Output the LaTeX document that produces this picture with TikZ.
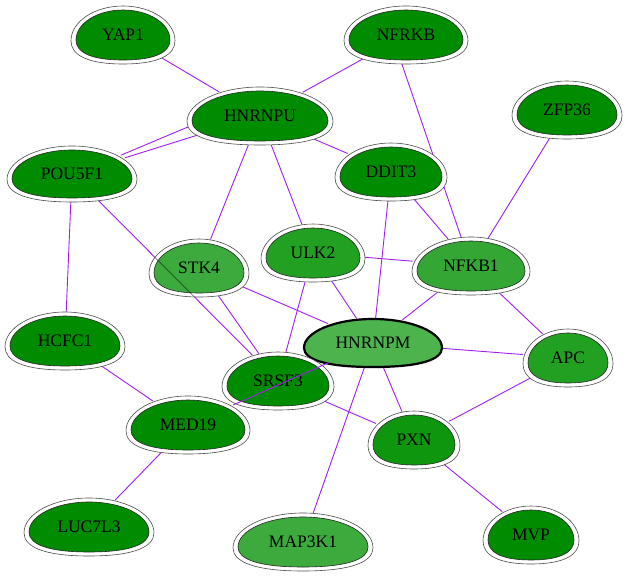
\documentclass[tikz,border=0pt]{standalone}
\usepackage{fontspec}
\setmainfont{Liberation Serif}
\usetikzlibrary{shapes.geometric,backgrounds}
\definecolor{gdark}{HTML}{008C00}
\definecolor{gpxn}{HTML}{0E960E}
\definecolor{gmid}{HTML}{22A022}
\definecolor{gnfk}{HTML}{33A633}
\definecolor{glight}{HTML}{3DAA3D}
\definecolor{ghub}{HTML}{4DB34D}
\definecolor{edgepurple}{HTML}{A020F0}
\newcommand{\eggpath}[2]{(0,{-(#2)}) .. controls ({0.55*(#1)},{-(#2)}) and ({#1},{-0.46*(#2)}) .. ({#1},{0.2*(#2)}) .. controls ({#1},{0.68*(#2)}) and ({0.7*(#1)},{#2}) .. (0,{#2}) .. controls ({-0.7*(#1)},{#2}) and ({-(#1)},{0.68*(#2)}) .. ({-(#1)},{0.2*(#2)}) .. controls ({-(#1)},{-0.46*(#2)}) and ({-0.55*(#1)},{-(#2)}) .. cycle}
\tikzset{
  pics/egg/.style n args={3}{code={
    \filldraw[draw=black!70, line width=0.6pt, fill=white] \eggpath{#1}{#2};
    \filldraw[draw=black!85, line width=0.6pt, fill=#3] \eggpath{#1-5}{#2-4};
  }},
  pics/hubegg/.style n args={3}{code={
    \filldraw[draw=black, line width=2.2pt, fill=#3] \eggpath{#1}{#2};
  }},
  genetext/.style={ellipse, inner sep=0pt, font=\fontsize{17.5}{20}\selectfont},
  link/.style={draw=edgepurple, line width=0.9pt},
  shadowlink/.style={draw=black, draw opacity=0.45, line width=0.9pt},
}
\begin{document}
\begin{tikzpicture}[x=1pt,y=-1pt]
\useasboundingbox (0,0) rectangle (626,577);
\pic at (123,35) {egg={52}{29}{gdark}};
\node[genetext, minimum width=104pt, minimum height=58pt] (YAP1) at (123,35) {YAP1};
\pic at (406,35) {egg={62}{29}{gdark}};
\node[genetext, minimum width=124pt, minimum height=58pt] (NFRKB) at (406,35) {NFRKB};
\pic at (260,116) {egg={73}{29}{gdark}};
\node[genetext, minimum width=146pt, minimum height=58pt] (HNRNPU) at (260,116) {HNRNPU};
\pic at (567,110) {egg={55}{29}{gdark}};
\node[genetext, minimum width=110pt, minimum height=58pt] (ZFP36) at (567,110) {ZFP36};
\pic at (72,174) {egg={65}{28}{gdark}};
\node[genetext, minimum width=130pt, minimum height=56pt] (POU5F1) at (72,174) {POU5F1};
\pic at (391,172) {egg={56}{29}{gdark}};
\node[genetext, minimum width=112pt, minimum height=58pt] (DDIT3) at (391,172) {DDIT3};
\pic at (199,268) {egg={50}{29}{glight}};
\node[genetext, minimum width=100pt, minimum height=58pt] (STK4) at (199,268) {};
\pic at (313,253) {egg={52}{29}{gmid}};
\node[genetext, minimum width=104pt, minimum height=58pt] (ULK2) at (313,253) {ULK2};
\pic at (471,266) {egg={59}{29}{gnfk}};
\node[genetext, minimum width=118pt, minimum height=58pt] (NFKB1) at (471,266) {NFKB1};
\pic at (65,341) {egg={60}{29}{gdark}};
\node[genetext, minimum width=120pt, minimum height=58pt] (HCFC1) at (65,341) {HCFC1};
\pic at (373,343) {hubegg={69}{24}{ghub}};
\node[genetext, minimum width=140pt, minimum height=50pt] (HNRNPM) at (373,343) {HNRNPM};
\pic at (568,358) {egg={45}{29}{gmid}};
\node[genetext, minimum width=90pt, minimum height=58pt] (APC) at (568,358) {APC};
\pic at (278,381) {egg={56}{29}{gdark}};
\node[genetext, minimum width=112pt, minimum height=58pt] (SRSF3) at (278,381) {SRSF3};
\pic at (188,425) {egg={62}{29}{gdark}};
\node[genetext, minimum width=124pt, minimum height=58pt] (MED19) at (188,425) {MED19};
\pic at (414,440) {egg={46}{29}{gpxn}};
\node[genetext, minimum width=92pt, minimum height=58pt] (PXN) at (414,440) {PXN};
\pic at (89,527) {egg={65}{29}{gdark}};
\node[genetext, minimum width=130pt, minimum height=58pt] (LUC7L3) at (89,527) {LUC7L3};
\pic at (303,542) {egg={70}{29}{glight}};
\node[genetext, minimum width=140pt, minimum height=58pt] (MAP3K1) at (303,542) {MAP3K1};
\pic at (531,535) {egg={48}{29}{gdark}};
\node[genetext, minimum width=96pt, minimum height=58pt] (MVP) at (531,535) {MVP};
% edge seen through STK4
\begin{scope}
\clip[shift={(199,268)}] \eggpath{50}{29};
\draw[shadowlink] (POU5F1) -- (SRSF3);
\end{scope}
\node[genetext] (STK4label) at (STK4.center) {STK4};
\begin{scope}[on background layer]
\fill[white] (0,0) rectangle (626,577);
\draw[link] (YAP1) -- (HNRNPU);
\draw[link] (NFRKB) -- (HNRNPU);
\draw[link] (NFRKB.-98) -- (NFKB1);
\draw[link] (HNRNPU.188) -- (POU5F1.21);
\draw[link] (HNRNPU.197) -- (POU5F1.17);
\draw[link] (HNRNPU) -- (DDIT3);
\draw[link] (HNRNPU) -- (STK4);
\draw[link] (HNRNPU) -- (ULK2);
\draw[link] (ZFP36) -- (NFKB1);
\draw[link] (DDIT3) -- (NFKB1);
\draw[link] (DDIT3) -- (HNRNPM);
\draw[link] (POU5F1) -- (HCFC1);
\draw[link] (POU5F1) -- (SRSF3);
\draw[link] (STK4) -- (SRSF3);
\draw[link] (STK4) -- (HNRNPM);
\draw[link] (ULK2) -- (SRSF3);
\draw[link] (ULK2) -- (HNRNPM);
\draw[link] (ULK2) -- (NFKB1);
\draw[link] (NFKB1) -- (HNRNPM);
\draw[link] (NFKB1) -- (APC);
\draw[link] (HNRNPM) -- (APC);
\draw[link] (HNRNPM) -- (PXN);
\draw[link] (HNRNPM) -- (MAP3K1);
\draw[link] (SRSF3) -- (PXN);
\draw[link] (HCFC1) -- (MED19);
\draw[link] (MED19) -- (LUC7L3);
\draw[link] (APC) -- (PXN);
\draw[link] (PXN) -- (MVP);
\end{scope}
\draw[link] (HNRNPM) -- (MED19);
\end{tikzpicture}
\end{document}
